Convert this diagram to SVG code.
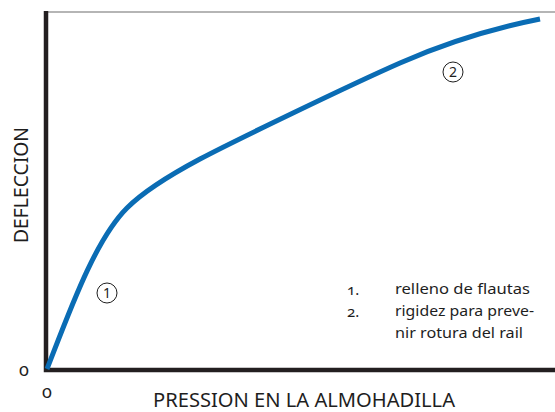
<svg xmlns="http://www.w3.org/2000/svg" width="555" height="412" viewBox="0 0 555 412">
<style>
.t{font-family:"Noto Sans","Open Sans","Liberation Sans",sans-serif;fill:#1e1e1e;font-variant-numeric:oldstyle-nums;font-feature-settings:"onum" 1}
.lab{font-size:19px}
.leg{font-size:15px}
.org{font-size:18px;text-anchor:middle}
.num{font-size:14px;text-anchor:middle;font-variant-numeric:lining-nums;font-feature-settings:"lnum" 1}
.circ{fill:none;stroke:#1e1e1e;stroke-width:1}
</style>
<rect width="555" height="412" fill="#fff"/>
<g id="axes">
<line x1="46" y1="12" x2="555" y2="12" stroke="#6d6d6d" stroke-width="1.2"/>
<path d="M46,11 V370 H555" fill="none" stroke="#231f20" stroke-width="4.5"/>
</g>
<g id="connectors">
<path id="curve" d="M47,369 C70,310 95,240 127,208 C145,190 170,175 200,159 S350,85 400,63 S500,27 540,19" fill="none" stroke="#0a6cb4" stroke-width="5"/>
</g>
<g id="labels">
<text class="t org" x="24" y="376">0</text>
<text class="t org" x="47" y="398">0</text>
<text class="t lab" x="304" y="407" text-anchor="middle" textLength="302" lengthAdjust="spacingAndGlyphs">PRESSION EN LA ALMOHADILLA</text>
<text class="t lab" transform="translate(28,185) rotate(-90)" x="0" y="0" text-anchor="middle" textLength="116" lengthAdjust="spacingAndGlyphs">DEFLECCION</text>
</g>
<g id="marker1">
<circle class="circ" cx="107" cy="293" r="10"/>
<text class="t num" x="107" y="298">1</text>
</g>
<g id="marker2">
<circle class="circ" cx="453" cy="72" r="10"/>
<text class="t num" x="453" y="77">2</text>
</g>
<g id="legend">
<text class="t leg" x="347" y="295">1.</text>
<text class="t leg" x="395" y="294" textLength="135" lengthAdjust="spacingAndGlyphs">relleno de flautas</text>
<text class="t leg" x="347" y="317">2.</text>
<text class="t leg" x="395" y="316" textLength="139" lengthAdjust="spacingAndGlyphs">rigidez para preve-</text>
<text class="t leg" x="395" y="338" textLength="128" lengthAdjust="spacingAndGlyphs">nir rotura del rail</text>
</g>
</svg>
